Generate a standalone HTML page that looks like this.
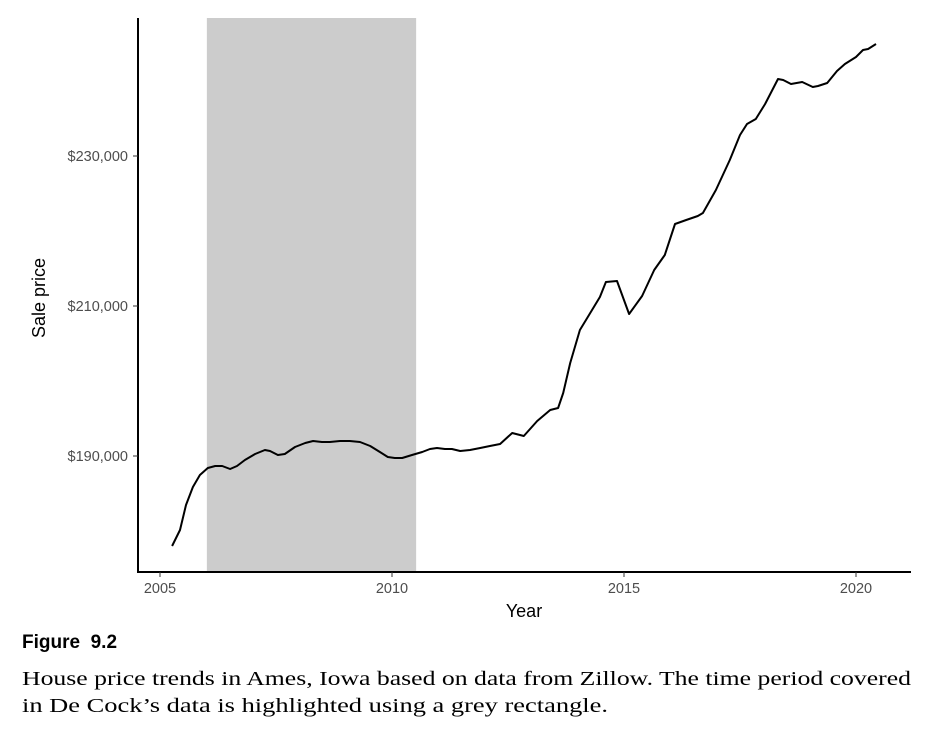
<!DOCTYPE html>
<html><head><meta charset="utf-8"><style>
body{margin:0;background:#fff;width:926px;height:732px;overflow:hidden}
svg{display:block}
</style></head><body>
<svg width="926" height="732" id="chart">
<text x="22" y="648" font-family="Liberation Sans, sans-serif" font-weight="bold" font-size="19">Figure&#160;&#160;9.2</text>
<text x="22" y="685" font-family="Liberation Serif, serif" font-size="20" textLength="889" lengthAdjust="spacingAndGlyphs">House price trends in Ames, Iowa based on data from Zillow.  The time period covered</text>
<text x="22" y="712" font-family="Liberation Serif, serif" font-size="20" textLength="586" lengthAdjust="spacingAndGlyphs">in De Cock’s data is highlighted using a grey rectangle.</text>
</svg>
<script>
const years=[2005.26,2005.43,2005.56,2005.71,2005.86,2006.03,2006.19,2006.34,2006.51,2006.66,2006.83,2007.05,2007.26,2007.37,2007.54,2007.69,2007.91,2008.13,2008.30,2008.49,2008.66,2008.88,2009.09,2009.31,2009.53,2009.74,2009.91,2010.06,2010.22,2010.43,2010.65,2010.82,2010.97,2011.14,2011.29,2011.47,2011.68,2011.90,2012.11,2012.33,2012.59,2012.84,2013.13,2013.41,2013.58,2013.69,2013.84,2014.05,2014.22,2014.48,2014.61,2014.85,2015.11,2015.39,2015.65,2015.88,2016.10,2016.34,2016.59,2016.70,2016.98,2017.28,2017.50,2017.65,2017.84,2018.04,2018.32,2018.43,2018.60,2018.84,2019.07,2019.18,2019.38,2019.59,2019.76,2020.00,2020.15,2020.26,2020.43];
const prices=[178000,180130,183470,185870,187470,188400,188670,188670,188270,188670,189470,190270,190800,190670,190130,190270,191200,191730,192000,191870,191870,192000,192000,191870,191330,190530,189870,189730,189730,190130,190530,190930,191070,190930,190930,190670,190800,191070,191330,191600,193070,192670,194670,196130,196400,198400,202400,206800,208530,211200,213200,213330,208930,211330,214800,216800,220930,221470,222000,222400,225470,229470,232800,234270,234930,236930,240270,240130,239600,239870,239200,239330,239730,241330,242270,243200,244130,244270,244930];
const highlight=[2006.01,2010.52];
const xTicks=[2005,2010,2015,2020];
const yTicks=[190000,210000,230000];
const yTickLabels=["$190,000","$210,000","$230,000"];

const NS="http://www.w3.org/2000/svg";
const svg=document.getElementById('chart');
const X=v=>160+(v-2005)*46.4;
const Y=v=>456-(v-190000)/1000*7.5;
function mk(tag,attrs,text){const e=document.createElementNS(NS,tag);for(const k in attrs)e.setAttribute(k,attrs[k]);if(text!==undefined)e.textContent=text;svg.appendChild(e);return e;}

let r=mk('rect',{x:X(highlight[0]),y:18,width:X(highlight[1])-X(highlight[0]),height:554,fill:'#cccccc'});



let d=years.map((y,i)=>(i?'L':'M')+X(y).toFixed(1)+','+Y(prices[i]).toFixed(1)).join(' ');
let p=mk('path',{d:d,fill:'none',stroke:'#000','stroke-width':2,'stroke-linejoin':'round'});



let ya=mk('line',{x1:138,y1:18,x2:138,y2:573,stroke:'#000','stroke-width':2});


let xa=mk('line',{x1:137,y1:572,x2:911,y2:572,stroke:'#000','stroke-width':2});



xTicks.forEach(t=>{
  let tk=mk('line',{x1:X(t),y1:572,x2:X(t),y2:577,stroke:'#333','stroke-width':1});
  
  
  let l=mk('text',{x:X(t),y:593,'text-anchor':'middle','font-family':'Liberation Sans, sans-serif','font-size':14.5,fill:'#4d4d4d'},String(t));
  
  
});
yTicks.forEach((t,i)=>{
  let tk=mk('line',{x1:133,y1:Y(t),x2:138,y2:Y(t),stroke:'#333','stroke-width':1});
  
  
  let l=mk('text',{x:128,y:Y(t)+5,'text-anchor':'end','font-family':'Liberation Sans, sans-serif','font-size':14.5,fill:'#4d4d4d'},yTickLabels[i]);
  
  
});
let xt=mk('text',{x:524,y:617,'text-anchor':'middle','font-family':'Liberation Sans, sans-serif','font-size':18,fill:'#000'},'Year');


let yt=mk('text',{x:0,y:0,'text-anchor':'middle','font-family':'Liberation Sans, sans-serif','font-size':18,fill:'#000',transform:'translate(45,298) rotate(-90)'},'Sale price');


</script>
</body></html>
